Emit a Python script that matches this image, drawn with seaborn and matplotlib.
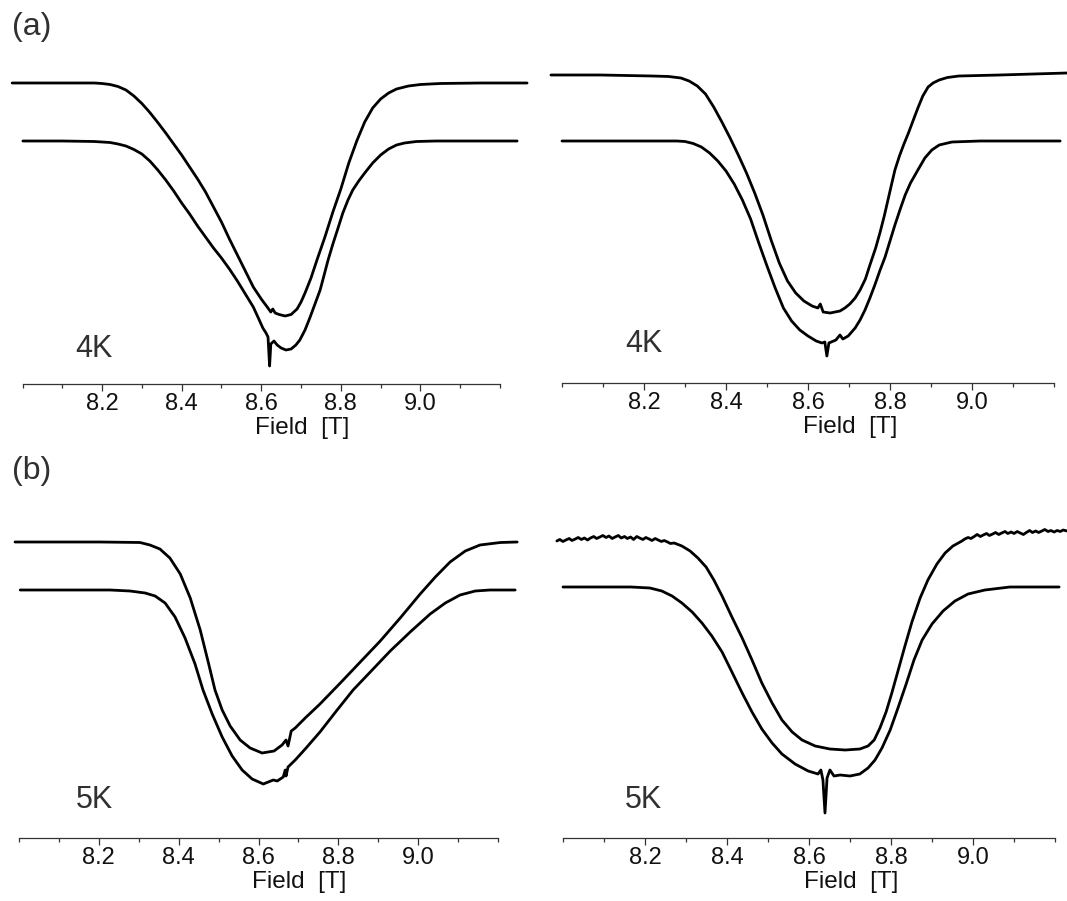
#%% import tools and libraries
import matplotlib
matplotlib.use('Agg')
import matplotlib.pyplot as plt
import pandas as pd
import seaborn as sb

#%% data: field in T, signal in arbitrary units (height above the axis)
# (a) left, 4K
a_left_up_T = [7.974, 8.10, 8.18, 8.20, 8.22, 8.24, 8.26, 8.28, 8.30, 8.32, 8.34, 8.36, 8.38, 8.40, 8.42,
               8.44, 8.46, 8.48, 8.50, 8.52, 8.54, 8.56, 8.58, 8.60, 8.615, 8.624, 8.629, 8.635, 8.645,
               8.66, 8.675, 8.69, 8.70, 8.71, 8.725, 8.74, 8.76, 8.78, 8.80, 8.82, 8.84, 8.86, 8.88,
               8.90, 8.92, 8.94, 8.97, 9.00, 9.05, 9.15, 9.268]
a_left_up_s = [301, 301, 301, 300.5, 299.5, 297.5, 294, 288, 280.5, 271.5, 261.5, 251, 240, 229, 217,
               205, 192, 177, 162, 145, 129, 113, 97, 85, 77, 72, 75, 71, 69.5,
               68, 69.5, 75, 82, 91, 106, 124, 147, 172, 195, 221, 243, 262, 276,
               285, 291, 295, 298, 299.5, 300.5, 301, 301]
a_left_lo_T = [8.001, 8.10, 8.18, 8.22, 8.24, 8.26, 8.28, 8.30, 8.32, 8.34, 8.36, 8.38, 8.40, 8.42, 8.44,
               8.46, 8.48, 8.50, 8.52, 8.54, 8.56, 8.58, 8.595, 8.604, 8.612, 8.617, 8.621, 8.624, 8.632,
               8.64, 8.65, 8.662, 8.675, 8.687, 8.697, 8.71, 8.722, 8.735, 8.748, 8.768, 8.78, 8.793,
               8.805, 8.818, 8.83, 8.845, 8.86, 8.88, 8.90, 8.92, 8.94, 8.96, 8.99, 9.04, 9.243]
a_left_lo_s = [243, 243, 242.5, 241.5, 240, 238, 234.5, 230, 223, 214, 204, 193, 181, 170, 158,
               147, 136, 126, 115, 103, 90, 77, 64, 56, 51, 47, 18, 40, 43,
               39, 36, 34, 35, 39, 44, 54, 66, 80, 94, 124, 140, 156,
               171, 184, 194, 203, 211, 221, 229, 235, 239, 241, 242.5, 243, 243]

# (a) right, 4K
a_right_up_T = [7.973, 8.093, 8.22, 8.26, 8.29, 8.31, 8.33, 8.35, 8.37, 8.39, 8.41, 8.43, 8.45, 8.47,
                8.49, 8.51, 8.53, 8.55, 8.57, 8.59, 8.61, 8.624, 8.630, 8.637, 8.654, 8.678, 8.69, 8.702,
                8.715, 8.727, 8.74, 8.751, 8.765, 8.776, 8.786, 8.795, 8.804, 8.812, 8.823, 8.834, 8.845,
                8.856, 8.868, 8.88, 8.893, 8.905, 8.92, 8.94, 8.968, 9.068, 9.232]
a_right_up_s = [308, 308, 307, 306.5, 305, 302, 297, 289, 276, 261, 245, 228, 210, 190,
                168, 143, 120, 102, 90, 82, 77, 75, 79, 71, 70, 72, 75, 79,
                85, 93, 104, 118, 135, 151, 167, 183, 199, 213, 227, 239, 250,
                262, 275, 287, 296, 300, 303, 305.5, 307, 308, 310]
a_right_lo_T = [8.000, 8.28, 8.30, 8.32, 8.34, 8.36, 8.38, 8.40, 8.42, 8.44, 8.46, 8.48, 8.50, 8.52,
                8.54, 8.56, 8.58, 8.60, 8.62, 8.634, 8.641, 8.646, 8.651, 8.668, 8.678, 8.685, 8.698,
                8.715, 8.727, 8.739, 8.751, 8.763, 8.775, 8.788, 8.80, 8.812, 8.825, 8.837, 8.85, 8.868,
                8.885, 8.902, 8.92, 8.951, 9.02, 9.215]
a_right_lo_s = [242, 242, 241.5, 239.5, 236, 230, 222, 212, 199, 183, 164, 140, 117, 95,
                75, 62, 53, 47, 42, 40, 41, 27, 40, 43, 48, 44, 47,
                55, 63, 73, 85, 98, 112, 126, 142, 158, 174, 188, 200, 213,
                225, 233, 238, 241, 242, 242]

# (b) left, 5K
b_left_up_T = [7.990, 8.203, 8.303, 8.328, 8.353, 8.378, 8.404, 8.429, 8.454, 8.474, 8.491, 8.509,
               8.529, 8.554, 8.579, 8.609, 8.639, 8.659, 8.669, 8.674, 8.682, 8.692, 8.717, 8.754,
               8.805, 8.855, 8.905, 8.955, 9.005, 9.043, 9.080, 9.118, 9.155, 9.206, 9.248]
b_left_up_s = [296, 296, 295.5, 293, 289, 280, 264, 240, 208, 176, 148, 128,
               112, 98, 90, 85, 87, 93, 98, 92, 107, 110, 120, 134,
               155, 176, 197, 220, 244, 261, 276, 287, 293, 295.5, 296]
b_left_lo_T = [8.003, 8.228, 8.278, 8.316, 8.341, 8.366, 8.391, 8.416, 8.441, 8.461, 8.484, 8.509,
               8.534, 8.559, 8.584, 8.612, 8.637, 8.647, 8.662, 8.667, 8.669, 8.674, 8.692, 8.717,
               8.754, 8.797, 8.837, 8.880, 8.930, 8.980, 9.030, 9.068, 9.105, 9.143, 9.180, 9.243]
b_left_lo_s = [248, 248, 247, 245, 242, 235, 221, 200, 174, 148, 124, 101,
               82, 68, 59, 54, 58, 57, 61, 68, 62, 71, 78, 89,
               106, 128, 148, 166, 187, 206, 224, 235, 243, 247, 248, 248]

# (b) right, 5K (upper trace is the noisy one)
b_right_up_T = [7.985, 7.992, 8.000, 8.007, 8.015, 8.022, 8.030, 8.037, 8.045, 8.052, 8.060, 8.067,
                8.075, 8.082, 8.090, 8.097, 8.105, 8.112, 8.120, 8.127, 8.135, 8.142, 8.150, 8.157,
                8.165, 8.172, 8.180, 8.187, 8.195, 8.202, 8.210, 8.217, 8.225, 8.232, 8.240, 8.247,
                8.255, 8.262, 8.271, 8.290, 8.310, 8.329, 8.349, 8.368, 8.388, 8.412, 8.437, 8.461,
                8.485, 8.510, 8.534, 8.559, 8.583, 8.615, 8.651, 8.688, 8.724, 8.744, 8.759, 8.773,
                8.788, 8.802, 8.817, 8.834, 8.851, 8.871, 8.890, 8.912, 8.932, 8.951, 8.973, 8.980,
                8.988, 8.995, 9.003, 9.010, 9.018, 9.025, 9.033, 9.040, 9.048, 9.055, 9.063, 9.070,
                9.078, 9.085, 9.093, 9.100, 9.108, 9.115, 9.123, 9.130, 9.138, 9.145, 9.153, 9.160,
                9.168, 9.175, 9.183, 9.190, 9.198, 9.205, 9.213, 9.220, 9.229]
b_right_up_s = [297, 298.5, 296.5, 298, 299.5, 297.5, 299, 300.5, 298.5, 300, 298, 300,
                301.5, 299.5, 301, 302.5, 300.5, 302, 299.5, 301, 302.5, 300, 301.5, 299.5,
                301, 298.5, 301.5, 300, 298.5, 300.5, 299, 297.5, 299.5, 298, 296.5, 297.5,
                296, 294.5, 295, 292, 287, 280, 271, 258, 242, 221, 200, 178,
                155, 135, 118, 106, 98, 92, 89, 88, 89, 92, 98, 110,
                126, 145, 167, 192, 216, 240, 258, 274, 285, 292, 297, 299,
                300.5, 299.5, 301.5, 303.5, 301.5, 303, 304.5, 302.5, 304, 305.5, 303.5, 305,
                306.5, 304.5, 306, 304.5, 306.5, 305, 303.5, 305.5, 307.5, 305.5, 307, 305.5,
                307, 308.5, 306.5, 307.5, 306, 307.5, 306.5, 308, 307]
b_right_lo_T = [8.000, 8.166, 8.212, 8.241, 8.266, 8.290, 8.315, 8.339, 8.363, 8.388, 8.412, 8.437,
                8.461, 8.485, 8.510, 8.534, 8.566, 8.598, 8.622, 8.629, 8.634, 8.639, 8.644, 8.651,
                8.661, 8.676, 8.700, 8.724, 8.744, 8.761, 8.778, 8.798, 8.817, 8.837, 8.856, 8.876,
                8.900, 8.927, 8.956, 8.988, 9.029, 9.090, 9.210]
b_right_lo_s = [251, 251, 250, 247, 242, 235, 226, 215, 202, 186, 166, 145,
                126, 109, 95, 84, 74, 67, 64, 68, 58, 25, 60, 68,
                62, 63, 62, 64, 70, 78, 90, 108, 130, 154, 178, 198,
                214, 227, 237, 244, 248, 251, 251]

temperatures = ['4K', '4K', '5K', '5K']
major_ticks = [8.2, 8.4, 8.6, 8.8, 9.0]
minor_ticks = [8.0, 8.1, 8.3, 8.5, 8.7, 8.9, 9.1, 9.2]

#%% layout (pixel positions of the bottom axis of each panel)
W, H = 1067., 901.
AX_H = 330.
panels = [
    # left px, right px, axis px, traces, temperature label position
    (22.5, 500, 384, [(a_left_up_T, a_left_up_s), (a_left_lo_T, a_left_lo_s)], (8.132, 27)),
    (562, 1054, 383, [(a_right_up_T, a_right_up_s), (a_right_lo_T, a_right_lo_s)], (8.154, 31)),
    (19, 498, 838, [(b_left_up_T, b_left_up_s), (b_left_lo_T, b_left_lo_s)], (8.143, 30)),
    (563, 1055, 838, [(b_right_up_T, b_right_up_s), (b_right_lo_T, b_right_lo_s)], (8.151, 30)),
]

sb.set_style('white')
plt.rcParams['font.family'] = ['Liberation Sans', 'DejaVu Sans']

fig = plt.figure(figsize=(W / 100, H / 100), dpi=100)

for (left, right, axis_y, traces, lab_pos), temp in zip(panels, temperatures):
    ax = fig.add_axes([left / W, (H - axis_y) / H, (right - left) / W, AX_H / H])
    ax.patch.set_visible(False)
    df = {'Field [T]': [], 'signal': [], 'trace': []}
    for i, (T, s) in enumerate(traces):
        df['Field [T]'].extend(T)
        df['signal'].extend(s)
        df['trace'].extend([i] * len(T))
    df = pd.DataFrame.from_dict(df)
    sb.lineplot(data=df, x='Field [T]', y='signal', units='trace', estimator=None, sort=False,
                color='black', lw=2.0, clip_on=False, solid_joinstyle='round', ax=ax)
    ax.set_xlim(8.0, 9.2)
    ax.set_ylim(0, AX_H)
    ax.set_xticks(major_ticks)
    ax.set_xticks(minor_ticks, minor=True)
    ax.set_yticks([])
    ax.set_ylabel('')
    for sp in ['left', 'top', 'right']:
        ax.spines[sp].set_visible(False)
    ax.spines['bottom'].set_color('#333333')
    ax.spines['bottom'].set_linewidth(0.9)
    ax.tick_params(axis='x', which='both', bottom=True, direction='out', color='#333333', width=0.9)
    ax.tick_params(axis='x', which='major', length=5, pad=1.5, labelsize=17, labelcolor='#111111')
    ax.tick_params(axis='x', which='minor', length=3)
    ax.set_xlabel('Field  [T]', fontsize=17.5, color='#111111')
    ax.xaxis.set_label_coords(0.585, -33 / AX_H)
    ax.text(lab_pos[0], lab_pos[1], temp, fontsize=22, color='#303030', va='baseline', ha='left')

fig.text(12 / W, 1 - 12 / H, '(a)', fontsize=23, color='#303030', va='top', ha='left')
fig.text(12 / W, 1 - 456 / H, '(b)', fontsize=23, color='#303030', va='top', ha='left')

plt.savefig('out.png', dpi=100)
